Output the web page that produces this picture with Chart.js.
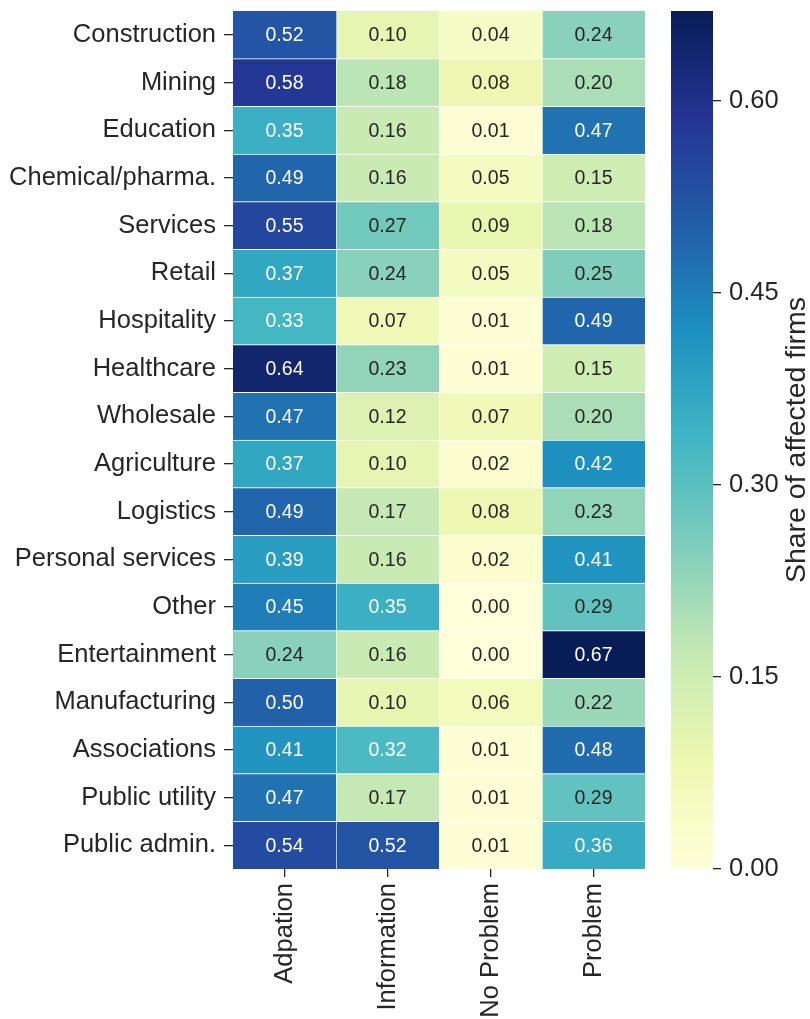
<!DOCTYPE html>
<html>
<head>
<meta charset="utf-8">
<script src="https://cdn.jsdelivr.net/npm/chart.js@4/dist/chart.umd.min.js"></script>
<style>
  body { margin: 0; background: #fff; }
  #wrap { position: relative; width: 810px; height: 1019px; }
  canvas { position: absolute; top: 0; }
</style>
</head>
<body>
<div id="wrap">
  <canvas id="heat" width="660" height="1019" style="left:0"></canvas>
  <canvas id="bar" width="150" height="1019" style="left:660px"></canvas>
</div>
<script>
const industries = ['Construction', 'Mining', 'Education', 'Chemical/pharma.', 'Services', 'Retail',
  'Hospitality', 'Healthcare', 'Wholesale', 'Agriculture', 'Logistics', 'Personal services', 'Other',
  'Entertainment', 'Manufacturing', 'Associations', 'Public utility', 'Public admin.'];
const columns = ['Adpation', 'Information', 'No Problem', 'Problem'];

const adaptation  = [0.52, 0.58, 0.35, 0.49, 0.55, 0.37, 0.33, 0.64, 0.47, 0.37, 0.49, 0.39, 0.45, 0.24, 0.50, 0.41, 0.47, 0.54];
const information = [0.10, 0.18, 0.16, 0.16, 0.27, 0.24, 0.07, 0.23, 0.12, 0.10, 0.17, 0.16, 0.35, 0.16, 0.10, 0.32, 0.17, 0.52];
const noProblem   = [0.04, 0.08, 0.01, 0.05, 0.09, 0.05, 0.01, 0.01, 0.07, 0.02, 0.08, 0.02, 0.00, 0.00, 0.06, 0.01, 0.01, 0.01];
const problem     = [0.24, 0.20, 0.47, 0.15, 0.18, 0.25, 0.49, 0.15, 0.20, 0.42, 0.23, 0.41, 0.29, 0.67, 0.22, 0.48, 0.29, 0.36];
const series = [adaptation, information, noProblem, problem];

const cbTicks = [0, 0.15, 0.30, 0.45, 0.60];
const vmax = Math.max(...series.flat());

// YlGnBu
const stops = ['#ffffd9', '#edf8b1', '#c7e9b4', '#7fcdbb', '#41b6c4', '#1d91c0', '#225ea8', '#253494', '#081d58'];
const rgbStops = stops.map(h => [1, 3, 5].map(i => parseInt(h.substr(i, 2), 16)));

function cmap(v) {
  let t = Math.min(Math.max(v / vmax, 0), 1) * (stops.length - 1);
  let i = Math.min(Math.floor(t), stops.length - 2);
  let f = t - i;
  return rgbStops[i].map((c, k) => Math.round(c + (rgbStops[i + 1][k] - c) * f));
}

// same rule seaborn uses for annotation colour
function textColor(rgb) {
  const lin = rgb.map(c => { c /= 255; return c <= 0.03928 ? c / 12.92 : Math.pow((c + 0.055) / 1.055, 2.4); });
  const lum = 0.2126 * lin[0] + 0.7152 * lin[1] + 0.0722 * lin[2];
  return lum > 0.408 ? '#262626' : '#ffffff';
}

const FONT = "'Liberation Sans', Arial, sans-serif";
const ink = '#262626';

const noPad = s => { s.paddingTop = 0; s.paddingBottom = 0; s.paddingLeft = 0; s.paddingRight = 0; };

const cellLabels = {
  id: 'cellLabels',
  afterDatasetsDraw(chart) {
    const ctx = chart.ctx;
    ctx.save();
    ctx.font = '19.5px ' + FONT;
    ctx.textAlign = 'center';
    ctx.textBaseline = 'middle';
    chart.data.datasets.forEach((ds, j) => {
      chart.getDatasetMeta(j).data.forEach((el, i) => {
        const v = series[j][i];
        ctx.fillStyle = textColor(cmap(v));
        ctx.fillText(v.toFixed(2), (el.x + el.base) / 2, el.y + 1);
      });
    });
    ctx.restore();
  }
};

new Chart(document.getElementById('heat'), {
  type: 'bar',
  data: {
    labels: industries,
    datasets: series.map((vals, j) => ({
      label: columns[j],
      data: vals.map(() => [j, j + 1]),
      backgroundColor: vals.map(v => 'rgb(' + cmap(v).join(',') + ')'),
      borderColor: '#ffffff',
      borderWidth: vals.map((v, i) => ({top: i > 0 ? 1 : 0, left: j > 0 ? 1 : 0, right: 0, bottom: 0})),
      borderSkipped: false,
      barPercentage: 1,
      categoryPercentage: 1,
      grouped: false
    }))
  },
  options: {
    responsive: false,
    animation: false,
    indexAxis: 'y',
    layout: {padding: {left: 0, right: 15, top: 11, bottom: 0}},
    plugins: {legend: {display: false}, tooltip: {enabled: false}},
    scales: {
      x: {
        type: 'linear',
        min: 0,
        max: 4,
        afterBuildTicks: s => { s.ticks = [0.5, 1.5, 2.5, 3.5].map(v => ({value: v})); },
        afterFit: s => { s.height = 150; noPad(s); },
        border: {display: false},
        grid: {drawOnChartArea: false, drawTicks: true, tickLength: 8, color: ink, lineWidth: 1.3},
        ticks: {
          callback: (v, i) => columns[i],
          minRotation: 90,
          maxRotation: 90,
          padding: 6,
          color: ink,
          font: {size: 25.5, family: FONT}
        }
      },
      y: {
        afterFit: s => { s.width = 233; noPad(s); },
        border: {display: false},
        grid: {offset: false, drawOnChartArea: false, drawTicks: true, tickLength: 9, color: ink, lineWidth: 1.3},
        ticks: {autoSkip: false, padding: 8, color: ink, font: {size: 25.5, family: FONT}}
      }
    }
  },
  plugins: [cellLabels]
});

const cbTitle = {
  id: 'cbTitle',
  afterDraw(chart) {
    const ctx = chart.ctx;
    const ca = chart.chartArea;
    ctx.save();
    ctx.translate(137, (ca.top + ca.bottom) / 2);
    ctx.rotate(-Math.PI / 2);
    ctx.font = '28.5px ' + FONT;
    ctx.fillStyle = ink;
    ctx.textAlign = 'center';
    ctx.textBaseline = 'middle';
    ctx.fillText('Share of affected firms', 0, 0);
    ctx.restore();
  }
};

new Chart(document.getElementById('bar'), {
  type: 'bar',
  data: {
    labels: ['cb'],
    datasets: [{
      data: [[0, vmax]],
      backgroundColor: c => {
        const ca = c.chart.chartArea;
        if (!ca) return stops[0];
        const g = c.chart.ctx.createLinearGradient(0, ca.bottom, 0, ca.top);
        stops.forEach((s, i) => g.addColorStop(i / (stops.length - 1), s));
        return g;
      },
      borderWidth: 0,
      barPercentage: 1,
      categoryPercentage: 1
    }]
  },
  options: {
    responsive: false,
    animation: false,
    layout: {padding: {left: 11, right: 0, top: 11, bottom: 150}},
    plugins: {legend: {display: false}, tooltip: {enabled: false}},
    scales: {
      x: {display: false},
      y: {
        position: 'right',
        min: 0,
        max: vmax,
        afterBuildTicks: s => { s.ticks = cbTicks.map(v => ({value: v})); },
        afterFit: s => { s.width = 97; noPad(s); },
        border: {display: false},
        grid: {drawOnChartArea: false, drawTicks: true, tickLength: 8, color: ink, lineWidth: 1.3},
        ticks: {
          callback: v => v.toFixed(2),
          padding: 8,
          color: ink,
          font: {size: 25.5, family: FONT}
        }
      }
    }
  },
  plugins: [cbTitle]
});
</script>
</body>
</html>
